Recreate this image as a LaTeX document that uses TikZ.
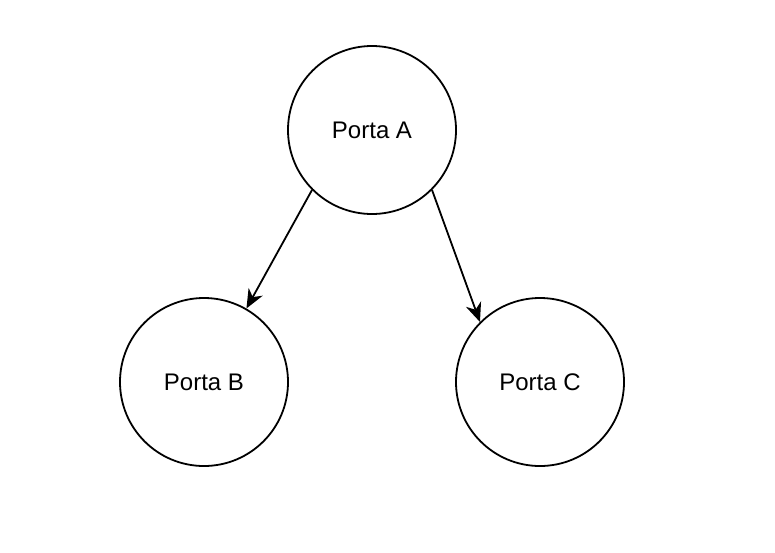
\documentclass[tikz,border=0pt]{standalone}
\usepackage{fontspec}
\setmainfont{Liberation Sans}
\usepackage{tikz}
\usetikzlibrary{positioning, arrows.meta}
\newcommand{\porta}[3]{\node[draw, circle, line width=1.8pt, minimum size=168pt, inner sep=0pt, font=\fontsize{24}{29}\selectfont, #3] (#1)
{#2};}
\newcommand{\ligacao}[3]{\draw [-{Stealth[length=19pt, width=16pt, inset=6pt]}, line width=1.8pt, #3] (#1) -- (#2);}

\begin{document}
\begin{tikzpicture}[x=1pt, y=-1pt]
\useasboundingbox (0,0) rectangle (775,552);

\porta{a}{Porta A}{at={(372,130)}};
\porta{b}{Porta B}{at={(204,382)}};
\porta{c}{Porta C}{at={(540,382)}};

\ligacao{a.225}{b.60}{};
\ligacao{a.-45}{c.135}{};
\end{tikzpicture}
\end{document}
